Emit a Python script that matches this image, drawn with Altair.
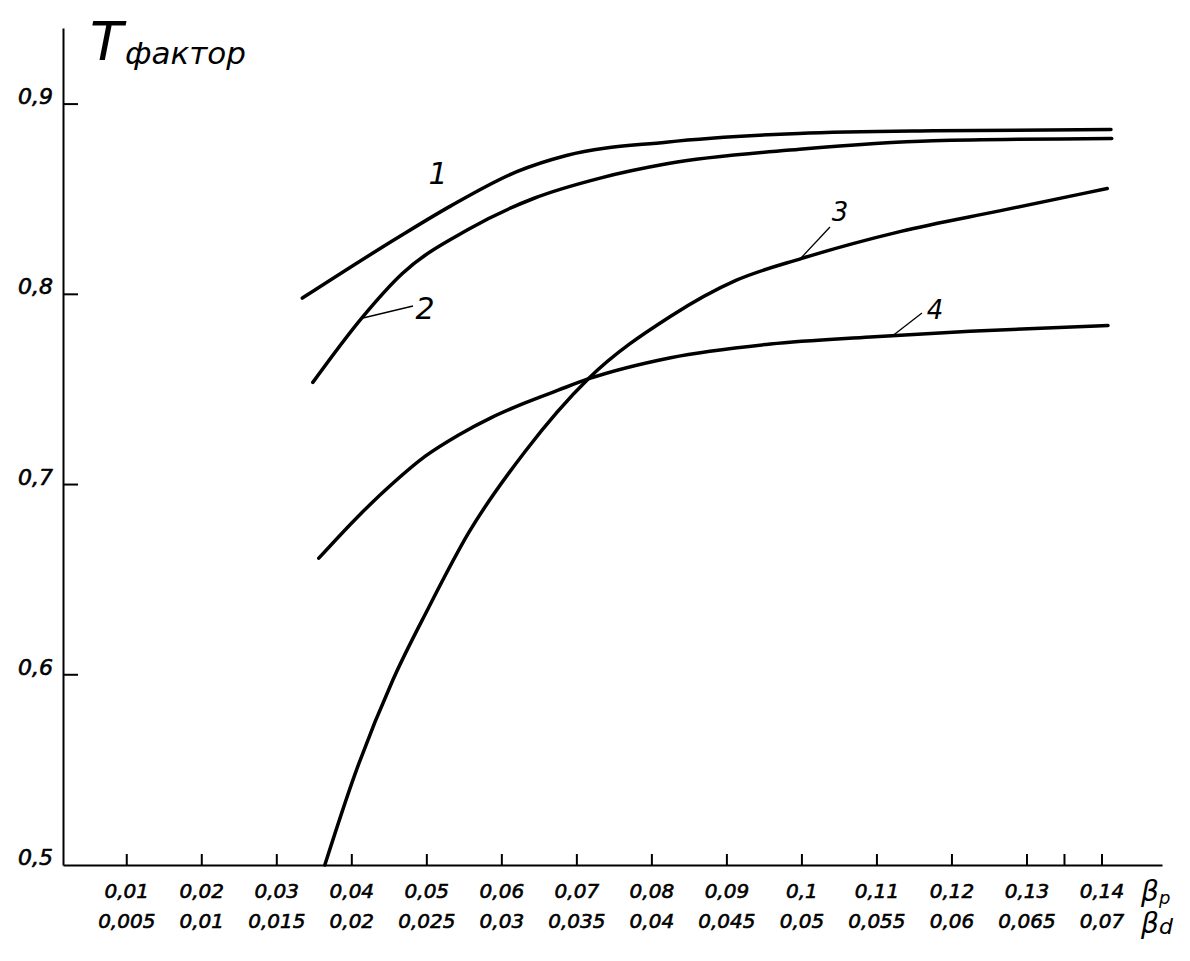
import altair as alt
import pandas as pd

# ---- axis ticks and labels ----
bp_ticks = [0.01, 0.02, 0.03, 0.04, 0.05, 0.06, 0.07, 0.08, 0.09, 0.10, 0.11, 0.12, 0.13, 0.14]
bp_labels = ["0,01", "0,02", "0,03", "0,04", "0,05", "0,06", "0,07", "0,08", "0,09", "0,1",
             "0,11", "0,12", "0,13", "0,14"]
bd_labels = ["0,005", "0,01", "0,015", "0,02", "0,025", "0,03", "0,035", "0,04", "0,045", "0,05",
             "0,055", "0,06", "0,065", "0,07"]
extra_ticks = [0.135]
y_tick_vals = [0.6, 0.7, 0.8, 0.9]
y_label_vals = [0.5, 0.6, 0.7, 0.8, 0.9]
y_labels = ["0,5", "0,6", "0,7", "0,8", "0,9"]

# ---- curves ----
c1_x = [0.0334, 0.0462, 0.0532, 0.0620, 0.0686, 0.0819, 0.0996, 0.1175, 0.1412]
c1_y = [0.798, 0.830, 0.8465, 0.8645, 0.873, 0.880, 0.8846, 0.886, 0.8866]

c2_x = [0.0348, 0.0414, 0.0467, 0.0555, 0.0643, 0.0731, 0.0820, 0.0997, 0.1175, 0.1413]
c2_y = [0.7537, 0.7879, 0.8108, 0.8341, 0.8505, 0.8611, 0.8686, 0.8762, 0.8807, 0.8819]

c3_x = [0.0364, 0.0404, 0.0455, 0.0502, 0.0556, 0.0631, 0.0715, 0.0824, 0.0912,
        0.1000, 0.1132, 0.1265, 0.1407]
c3_y = [0.500, 0.5475, 0.5975, 0.6350, 0.6748, 0.7174, 0.7555, 0.7882, 0.8073,
        0.8189, 0.8331, 0.8440, 0.8556]

c4_x = [0.0356, 0.0411, 0.0454, 0.0498, 0.0543, 0.0586, 0.0630, 0.0675, 0.0715,
        0.0825, 0.0958, 0.1091, 0.1224, 0.1408]
c4_y = [0.6613, 0.6843, 0.7004, 0.7149, 0.7262, 0.7352, 0.7428, 0.7496, 0.7555,
        0.7667, 0.7739, 0.7776, 0.7806, 0.7836]

W, H = 1099, 837
FONT = "DejaVu Sans"

frames = []
for name, xs_, ys_ in [("1", c1_x, c1_y), ("2", c2_x, c2_y), ("3", c3_x, c3_y), ("4", c4_x, c4_y)]:
    frames.append(pd.DataFrame({"bp": xs_, "T": ys_, "curve": name}))
df_curves = pd.concat(frames, ignore_index=True)

xs = alt.Scale(domain=[0.0015, 0.148], nice=False, zero=False)
ys = alt.Scale(domain=[0.5, 0.94], nice=False, zero=False)
x_axis = alt.Axis(title=None, labels=False, ticks=False, grid=False, domainColor="black", domainWidth=2)
y_axis = alt.Axis(title=None, labels=False, ticks=False, grid=False, domainColor="black", domainWidth=2)

lines = alt.Chart(df_curves).mark_line(
    strokeWidth=3.5, color="black", interpolate="monotone", strokeCap="round"
).encode(
    x=alt.X("bp:Q", scale=xs, axis=x_axis),
    y=alt.Y("T:Q", scale=ys, axis=y_axis),
    detail="curve:N",
)

df_xt = pd.DataFrame({"v": bp_ticks + extra_ticks})
xticks = alt.Chart(df_xt).mark_rule(strokeWidth=2, color="black").encode(
    x=alt.X("v:Q", scale=xs, axis=x_axis),
    y=alt.value(H),
    y2=alt.value(H - 11),
)

df_xl = pd.DataFrame({"v": bp_ticks, "lab": [a + "\n" + b for a, b in zip(bp_labels, bd_labels)]})
xlabels = alt.Chart(df_xl).mark_text(
    lineBreak="\n", lineHeight=30, baseline="top", align="center",
    fontSize=20, fontStyle="italic", font=FONT, color="black", stroke="black", strokeWidth=0.6
).encode(
    x=alt.X("v:Q", scale=xs, axis=x_axis),
    y=alt.value(H + 17),
    text="lab:N",
)

df_yt = pd.DataFrame({"v": y_tick_vals})
yticks = alt.Chart(df_yt).mark_rule(strokeWidth=2, color="black").encode(
    y=alt.Y("v:Q", scale=ys, axis=y_axis),
    x=alt.value(0),
    x2=alt.value(15),
)

df_yl = pd.DataFrame({"v": y_label_vals, "lab": y_labels})
ylabels = alt.Chart(df_yl).mark_text(
    align="right", baseline="middle", dy=-7, fontSize=22, fontStyle="italic", font=FONT,
    color="black", stroke="black", strokeWidth=0.6
).encode(
    y=alt.Y("v:Q", scale=ys, axis=y_axis),
    x=alt.value(-10),
    text="lab:N",
)


def label(txt, x, y, size, align="center", baseline="middle", style="italic"):
    return alt.Chart(pd.DataFrame({"t": [txt]})).mark_text(
        align=align, baseline=baseline, fontSize=size, fontStyle=style, font=FONT, color="black"
    ).encode(x=alt.value(x), y=alt.value(y), text="t:N")


def leader(x1, y1, x2, y2):
    return alt.Chart(pd.DataFrame({"a": [0]})).mark_rule(strokeWidth=1.3, color="black").encode(
        x=alt.value(x1), x2=alt.value(x2), y=alt.value(y1), y2=alt.value(y2)
    )


annots = [
    label("T", 27, 32, 54, align="left", baseline="alphabetic"),
    label("фактор", 62, 36, 31, align="left", baseline="alphabetic"),
    label("1", 375, 147, 30),
    label("2", 362, 282, 30),
    leader(300, 290, 350, 278),
    label("3", 777, 185, 26),
    leader(738, 230, 767, 199),
    label("4", 872, 283, 26),
    leader(828, 309, 859, 285),
    label("β", 1078, H + 28, 28, align="left"),
    label("p", 1096, H + 34, 18, align="left"),
    label("β", 1078, H + 60, 28, align="left"),
    label("d", 1096, H + 62, 22, align="left"),
]

chart = alt.layer(lines, xticks, xlabels, yticks, ylabels, *annots).properties(
    width=W, height=H,
    autosize=alt.AutoSizeParams(type="none"),
    padding={"left": 55, "top": 20, "right": 20, "bottom": 88},
).configure_view(stroke=None)

chart.save("out.html", embed_options={"renderer": "svg", "actions": False})
